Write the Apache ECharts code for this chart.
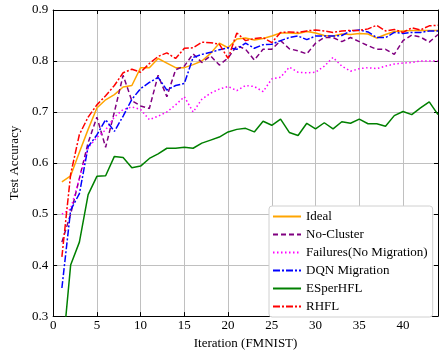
<!DOCTYPE html>
<html>
<head>
<meta charset="utf-8">
<script src="https://cdn.jsdelivr.net/npm/echarts@6/dist/echarts.min.js"></script>
<style>
  html, body { margin: 0; padding: 0; background: #fff; }
  #chart { width: 439px; height: 355px; }
</style>
</head>
<body>
<div id="chart"></div>
<script>
// iterations on the x axis
const iterations = [1, 2, 3, 4, 5, 6, 7, 8, 9, 10, 11, 12, 13, 14, 15, 16, 17, 18, 19, 20, 21, 22,
  23, 24, 25, 26, 27, 28, 29, 30, 31, 32, 33, 34, 35, 36, 37, 38, 39, 40, 41, 42, 43, 44];

// test accuracy per method
const ideal = [0.563, 0.575, 0.621, 0.666, 0.708, 0.724, 0.734, 0.749, 0.752, 0.787, 0.787, 0.805,
  0.796, 0.787, 0.787, 0.793, 0.800, 0.815, 0.835, 0.826, 0.843, 0.845, 0.841, 0.844, 0.849, 0.855,
  0.855, 0.854, 0.858, 0.855, 0.850, 0.849, 0.853, 0.852, 0.854, 0.853, 0.845, 0.852, 0.858, 0.859,
  0.860, 0.860, 0.860, 0.860];
const noCluster = [0.445, 0.500, 0.570, 0.640, 0.690, 0.631, 0.700, 0.772, 0.722, 0.712, 0.707, 0.772,
  0.730, 0.783, 0.790, 0.814, 0.797, 0.810, 0.792, 0.806, 0.830, 0.823, 0.802, 0.823, 0.823, 0.840,
  0.824, 0.820, 0.814, 0.835, 0.846, 0.846, 0.838, 0.846, 0.838, 0.830, 0.823, 0.823, 0.813, 0.840,
  0.851, 0.847, 0.837, 0.852];
const failures = [0.500, 0.510, 0.570, 0.630, 0.650, 0.665, 0.690, 0.705, 0.710, 0.705, 0.685, 0.692,
  0.700, 0.714, 0.730, 0.700, 0.725, 0.737, 0.745, 0.750, 0.742, 0.752, 0.750, 0.740, 0.765, 0.768,
  0.788, 0.778, 0.777, 0.778, 0.790, 0.807, 0.790, 0.780, 0.785, 0.787, 0.785, 0.790, 0.794, 0.796,
  0.797, 0.800, 0.800, 0.800];
const dqn = [0.355, 0.508, 0.540, 0.632, 0.655, 0.685, 0.662, 0.692, 0.725, 0.746, 0.758, 0.768,
  0.743, 0.752, 0.756, 0.807, 0.813, 0.817, 0.822, 0.826, 0.823, 0.835, 0.825, 0.832, 0.833, 0.840,
  0.846, 0.849, 0.842, 0.849, 0.849, 0.849, 0.850, 0.859, 0.861, 0.857, 0.846, 0.846, 0.856, 0.854,
  0.856, 0.856, 0.859, 0.859];
const esper = [0.215, 0.400, 0.445, 0.538, 0.574, 0.575, 0.613, 0.611, 0.591, 0.594, 0.609, 0.618,
  0.629, 0.629, 0.631, 0.629, 0.639, 0.645, 0.651, 0.661, 0.666, 0.668, 0.661, 0.682, 0.674, 0.686,
  0.660, 0.654, 0.678, 0.667, 0.679, 0.667, 0.681, 0.678, 0.686, 0.677, 0.677, 0.672, 0.693, 0.701,
  0.695, 0.708, 0.720, 0.695];
const rhfl = [0.416, 0.578, 0.656, 0.690, 0.714, 0.732, 0.752, 0.777, 0.784, 0.778, 0.795, 0.809,
  0.816, 0.805, 0.825, 0.826, 0.837, 0.836, 0.833, 0.805, 0.855, 0.840, 0.844, 0.846, 0.836, 0.856,
  0.857, 0.856, 0.859, 0.861, 0.859, 0.856, 0.859, 0.860, 0.860, 0.863, 0.870, 0.859, 0.862, 0.856,
  0.865, 0.861, 0.869, 0.870];

const serif = 'Liberation Serif';

function pairs(vals) {
  return iterations.map((x, i) => [x, vals[i]]);
}

function line(name, vals, color, type) {
  return {
    name: name,
    type: 'line',
    data: pairs(vals),
    symbol: 'none',
    clip: true,
    lineStyle: { color: color, width: 1.5, type: type },
    itemStyle: { color: color }
  };
}

const chart = echarts.init(document.getElementById('chart'), null, { renderer: 'canvas' });

const frameAxis = {
  axisLine: { show: true, onZero: false, lineStyle: { color: '#000', width: 1 } },
  axisTick: { show: true, inside: true, length: 4, lineStyle: { color: '#000' } }
};

chart.setOption({
  animation: false,
  grid: { left: 48, right: 1, top: 10, bottom: 33 },
  legend: {
    orient: 'vertical',
    left: 269,
    top: 206,
    padding: [4, 5, 4, 3],
    itemWidth: 28,
    itemHeight: 10,
    itemGap: 5,
    itemTextGap: 10,
    itemStyle: { opacity: 0 },   // hide the circle marker, keep the line
    backgroundColor: '#fff',
    borderColor: '#d0d0d0',
    borderWidth: 1,
    borderRadius: 3,
    textStyle: { fontFamily: serif, fontSize: 13, color: '#000' },
    data: ['Ideal', 'No-Cluster', 'Failures(No Migration)', 'DQN Migration', 'ESperHFL', 'RHFL']
  },
  xAxis: [
    Object.assign({
      type: 'value', min: 0, max: 44, interval: 5, position: 'bottom',
      name: 'Iteration (FMNIST)', nameLocation: 'middle', nameGap: 20,
      nameTextStyle: { fontFamily: serif, fontSize: 13, color: '#000' },
      axisLabel: { color: '#000', fontFamily: serif, fontSize: 13, margin: 3, showMaxLabel: false },
      splitLine: { show: true, lineStyle: { color: '#c0c0c0', width: 1 } }
    }, frameAxis),
    Object.assign({
      type: 'value', min: 0, max: 44, interval: 5, position: 'top',
      axisLabel: { show: false }, splitLine: { show: false }
    }, frameAxis)
  ],
  yAxis: [
    Object.assign({
      type: 'value', min: 0.3, max: 0.9, interval: 0.1, position: 'left',
      name: 'Test Accuracy', nameLocation: 'middle', nameGap: 32,
      nameTextStyle: { fontFamily: serif, fontSize: 13, color: '#000' },
      axisLabel: { color: '#000', fontFamily: serif, fontSize: 13, margin: 5,
        formatter: v => v.toFixed(1) },
      splitLine: { show: true, lineStyle: { color: '#c0c0c0', width: 1 } }
    }, frameAxis),
    Object.assign({
      type: 'value', min: 0.3, max: 0.9, interval: 0.1, position: 'right',
      axisLabel: { show: false }, splitLine: { show: false }
    }, frameAxis)
  ],
  series: [
    line('Ideal', ideal, '#ffa500', 'solid'),
    line('No-Cluster', noCluster, '#800080', [5, 3]),
    line('Failures(No Migration)', failures, '#ff00ff', [1.5, 2.5]),
    line('DQN Migration', dqn, '#0000ff', [7, 2, 2, 2]),
    line('ESperHFL', esper, '#008000', 'solid'),
    line('RHFL', rhfl, '#ff0000', [7, 2, 2, 2])
  ]
});
</script>
</body>
</html>
